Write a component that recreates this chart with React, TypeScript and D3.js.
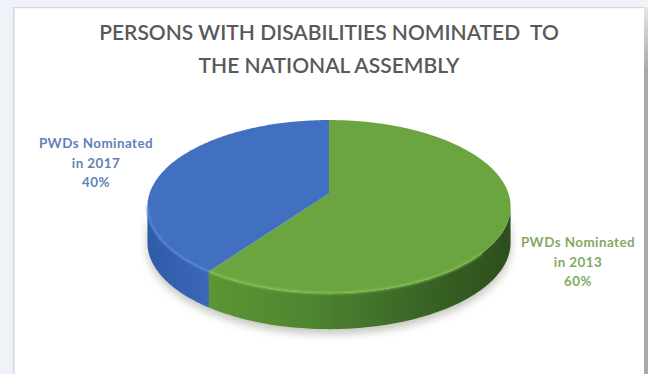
import React from "react";
import * as d3 from "d3";

const chartTitle = ["PERSONS WITH DISABILITIES NOMINATED  TO", "THE NATIONAL ASSEMBLY"];
const categories = ["PWDs Nominated in 2013", "PWDs Nominated in 2017"];
const shares = [60, 40];
const labelLines = [["PWDs Nominated", "in 2013", "60%"], ["PWDs Nominated", "in 2017", "40%"]];
const topColors = ["#6ba53f", "#4270c0"];
const labelColors = ["#7fab66", "#5f82ba"];
const wallIds = ["wallGreen", "wallBlue"];

const W = 648;
const H = 374;
const cx = 329;
const scaleX = 179.5;
const scaleY = 84.6;
const originY = 193.6;
const tilt = 0.15;
const depth = 36;

// Perspective projection of a point on the unit disc, clockwise angle from the back.
const project = (theta: number): [number, number] => {
  const u = Math.sin(theta);
  const v = -Math.cos(theta);
  const d = 1 - tilt * v;
  return [cx + (scaleX * u) / d, originY + (scaleY * v) / d];
};
const angleRange = (a: number, b: number) =>
  d3.range(0, 121).map((i) => a + ((b - a) * i) / 120);

const pieLayout = d3.pie<number>().sort(null);
const slices = pieLayout(shares);
const tangent = Math.acos(-tilt);
const rightLimit = tangent;
const leftLimit = 2 * Math.PI - tangent;
const lineGen = d3.line();

const topPath = (a: number, b: number) =>
  `M${cx},${originY}L` + angleRange(a, b).map(project).map((p) => p.join(",")).join("L") + "Z";
const wallPath = (a: number, b: number) => {
  const rim = angleRange(a, b).map(project);
  const low = rim.map(([x, y]) => [x, y + depth] as [number, number]).reverse();
  return lineGen([...rim, ...low]) + "Z";
};
const rimPath = (a: number, b: number) => lineGen(angleRange(a, b).map(project)) as string;

export default function App() {
  const font = "Lato, 'Open Sans', sans-serif";
  return (
    <svg
      width={W}
      height={H}
      viewBox={`0 0 ${W} ${H}`}
      style={{ position: "absolute", left: 0, top: 0, display: "block" }}
    >
      <defs>
        <linearGradient id="wallGreen" gradientUnits="userSpaceOnUse" x1={205} x2={511} y1={0} y2={0}>
          <stop offset="0" stopColor="#5c9634" />
          <stop offset="0.35" stopColor="#4e8530" />
          <stop offset="0.7" stopColor="#3a6526" />
          <stop offset="1" stopColor="#2c4f1c" />
        </linearGradient>
        <linearGradient id="wallBlue" gradientUnits="userSpaceOnUse" x1={148} x2={208} y1={0} y2={0}>
          <stop offset="0" stopColor="#2f5ca8" />
          <stop offset="1" stopColor="#3a68b8" />
        </linearGradient>
        <linearGradient id="edgeStrip" gradientUnits="userSpaceOnUse" x1={0} x2={0} y1={7} y2={70}>
          <stop offset="0" stopColor="#e6e6e9" />
          <stop offset="1" stopColor="#a9a9ae" />
        </linearGradient>
        <filter id="drop" x="-10%" y="-10%" width="120%" height="125%">
          <feGaussianBlur stdDeviation="4" />
        </filter>
        <filter id="bevel" x="-5%" y="-20%" width="110%" height="140%">
          <feGaussianBlur stdDeviation="1.2" />
        </filter>
      </defs>

      <rect width={W} height={H} fill="#eff3f9" />
      <rect x={13} y={7} width={631} height={H - 7} fill="#ffffff" />
      <rect x={644} y={7} width={4} height={H - 7} fill="url(#edgeStrip)" />
      <rect x={13} y={7} width={631} height={1.2} fill="#d6d8dc" />
      <rect x={13} y={7} width={1.5} height={H - 7} fill="#d2d5da" />

      {chartTitle.map((line, i) => (
        <text
          key={line}
          x={329}
          y={40 + i * 33}
          textAnchor="middle"
          fontFamily={font}
          fontWeight={600}
          fontSize={21}
          fill="#595959"
          xmlSpace="preserve"
        >
          {line}
        </text>
      ))}

      {/* soft shadow below the disc */}
      <path
        d={wallPath(rightLimit, leftLimit)}
        transform="translate(0,5)"
        fill="#6f6f60"
        opacity={0.4}
        filter="url(#drop)"
      />

      {/* visible side walls */}
      {slices.map((s, i) => {
        const a = Math.max(s.startAngle, rightLimit);
        const b = Math.min(s.endAngle, leftLimit);
        return <path key={categories[i]} d={wallPath(a, b)} fill={`url(#${wallIds[i]})`} />;
      })}

      {/* top faces */}
      {slices.map((s, i) => (
        <path key={categories[i]} d={topPath(s.startAngle, s.endAngle)} fill={topColors[i]} />
      ))}

      {/* light bevel along the front rim */}
      <path
        d={rimPath(Math.PI * 0.72, slices[0].endAngle)}
        fill="none"
        stroke="#8ccc58"
        strokeWidth={2}
        opacity={0.8}
        filter="url(#bevel)"
      />
      <path
        d={rimPath(slices[1].startAngle, leftLimit)}
        fill="none"
        stroke="#5a8ce0"
        strokeWidth={2}
        opacity={0.8}
        filter="url(#bevel)"
      />

      {labelLines[0].map((t, i) => (
        <text
          key={t}
          x={578}
          y={247 + i * 19.5}
          textAnchor="middle"
          fontFamily={font}
          fontWeight={700}
          fontSize={13.4}
          letterSpacing={0.45}
          fill={labelColors[0]}
        >
          {t}
        </text>
      ))}
      {labelLines[1].map((t, i) => (
        <text
          key={t}
          x={96}
          y={148 + i * 19.5}
          textAnchor="middle"
          fontFamily={font}
          fontWeight={700}
          fontSize={13.4}
          letterSpacing={0.45}
          fill={labelColors[1]}
        >
          {t}
        </text>
      ))}
    </svg>
  );
}
